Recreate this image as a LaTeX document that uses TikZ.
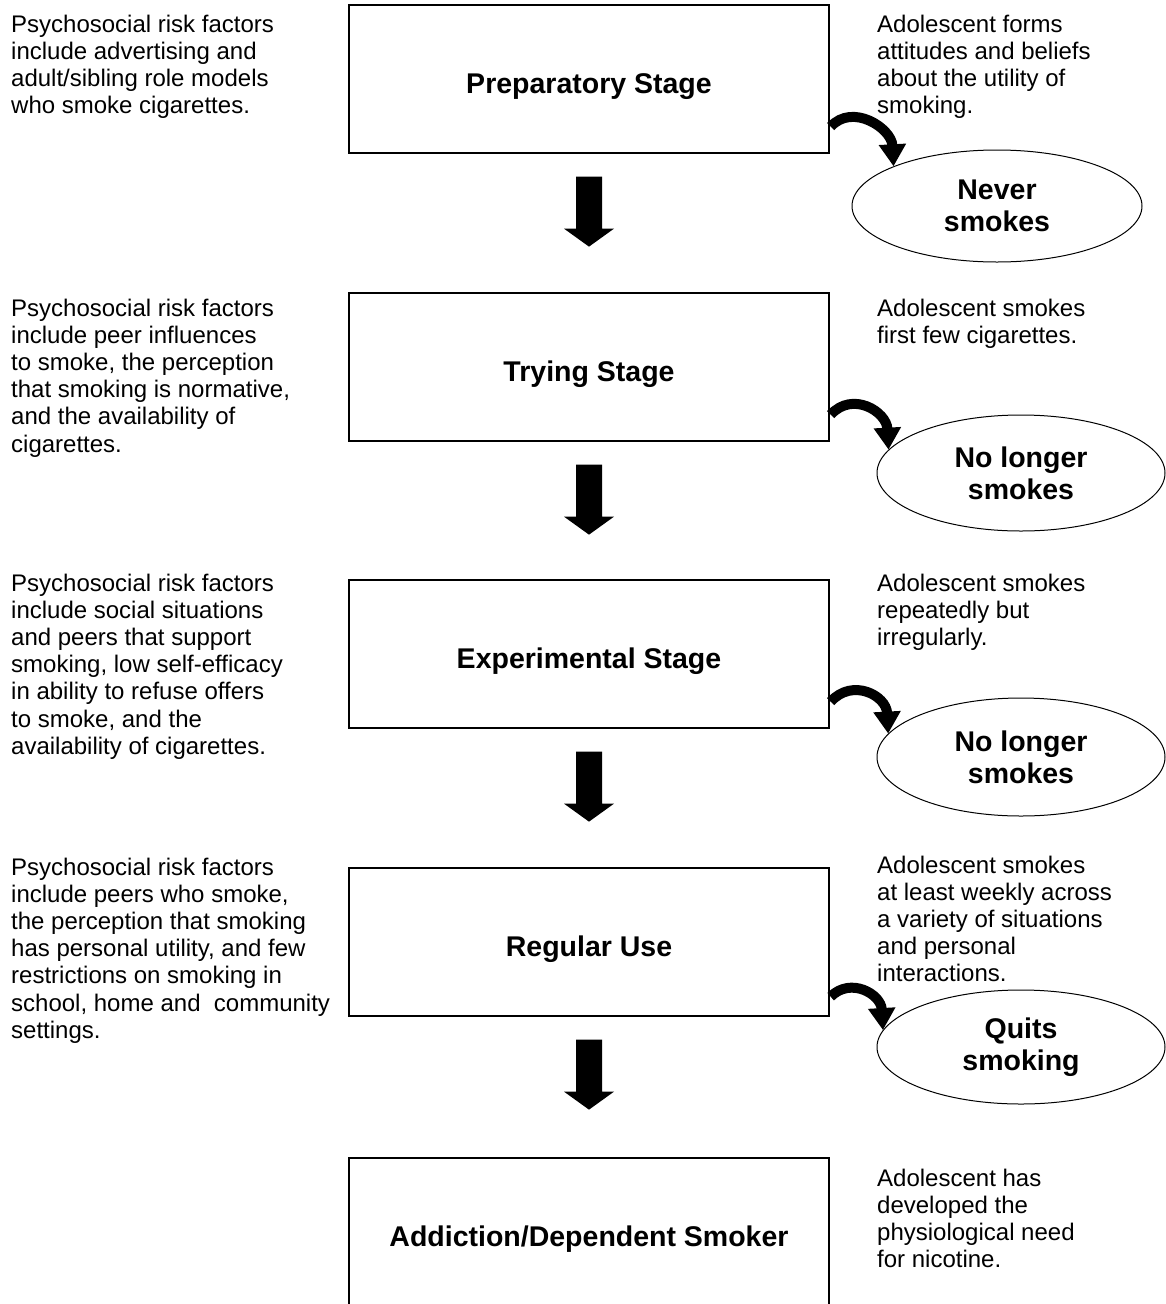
\documentclass[tikz,border=0pt]{standalone}
\usepackage{fontspec}
\setmainfont{Liberation Sans}
\usetikzlibrary{shapes.geometric,arrows.meta,calc}
\begin{document}
\begin{tikzpicture}[x=1pt,y=-1pt,
  stagebox/.style={draw, line width=1.3pt, minimum width=480pt, minimum height=148pt, inner sep=0pt,
    font=\fontsize{28.5}{31}\bfseries, text height=28pt, text depth=0pt},
  outcome/.style={ellipse, draw, line width=1pt, minimum width=290pt, minimum height=114pt, inner sep=0pt,
    align=center, font=\fontsize{28.5}{32}\bfseries},
  side/.style={anchor=north west, inner sep=0pt, align=left, font=\fontsize{24}{27.2}\selectfont},
  curvearrow/.style={line width=10pt, -{Triangle[width=26pt,length=22pt]}}
]
\useasboundingbox[fill=white] (0,0) rectangle (1166,1304);

% stage boxes
\node[stagebox] (b1) at (589,79) {Preparatory Stage};
\node[stagebox] (b2) at (589,367) {Trying Stage};
\node[stagebox] (b3) at (589,654) {Experimental Stage};
\node[stagebox] (b4) at (589,942) {Regular Use};
\node[stagebox] (b5) at (589,1232) {Addiction/Dependent Smoker};

% outcome ellipses
\node[outcome, minimum width=290pt, minimum height=112pt] (e1) at (997,206) {Never\\smokes};
\node[outcome, minimum width=288pt, minimum height=116pt] (e2) at (1021,473) {No longer\\smokes};
\node[outcome, minimum width=288pt, minimum height=118pt] (e3) at (1021,757) {No longer\\smokes};
\node[outcome, minimum width=288pt, minimum height=114pt] (e4) at (1021,1047) {Quits\\smoking};

% left texts
\node[side] (l1) at (11,14.5) {Psychosocial risk factors\\include advertising and\\adult/sibling role models\\who smoke cigarettes.};
\node[side] (l2) at (11,298.5) {Psychosocial risk factors\\include peer influences\\to smoke, the perception\\that smoking is normative,\\and the availability of\\cigarettes.};
\node[side] (l3) at (11,573.5) {Psychosocial risk factors\\include social situations\\and peers that support\\smoking, low self-efficacy\\in ability to refuse offers\\to smoke, and the\\availability of cigarettes.};
\node[side] (l4) at (11,857.5) {Psychosocial risk factors\\include peers who smoke,\\the perception that smoking\\has personal utility, and few\\restrictions on smoking in\\school, home and\ \ community\\settings.};

% right texts
\node[side] (r1) at (877,14.5) {Adolescent forms\\attitudes and beliefs\\about the utility of\\smoking.};
\node[side] (r2) at (877,298.5) {Adolescent smokes\\first few cigarettes.};
\node[side] (r3) at (877,573.5) {Adolescent smokes\\repeatedly but\\irregularly.};
\node[side] (r4) at (877,855.5) {Adolescent smokes\\at least weekly across\\a variety of situations\\and personal\\interactions.};
\node[side] (r5) at (877,1168.5) {Adolescent has\\developed the\\physiological need\\for nicotine.};

% block arrows between stages
\foreach \s in {b1,b2,b3,b4}{
  \fill ($(\s.south)+(-13,23)$) -- ($(\s.south)+(13,23)$) -- ($(\s.south)+(13,75)$)
    -- ($(\s.south)+(25,75)$) -- ($(\s.south)+(0,93)$) -- ($(\s.south)+(-25,75)$)
    -- ($(\s.south)+(-13,75)$) -- cycle;
}

% curved arrows to outcomes
\draw[curvearrow] ($(b1.south east)+(1,-27)$) .. controls +(22,-24) and +(-2,-38) .. (e1.159);
\draw[curvearrow] ($(b2.south east)+(1,-27)$) .. controls +(22,-24) and +(-2,-38) .. (e2.170);
\draw[curvearrow] ($(b3.south east)+(1,-27)$) .. controls +(22,-24) and +(-2,-38) .. (e3.170);
\draw[curvearrow] ($(b4.south east)+(1,-20)$) .. controls +(20,-20) and +(-2,-36) .. (e4.173);
\end{tikzpicture}
\end{document}
